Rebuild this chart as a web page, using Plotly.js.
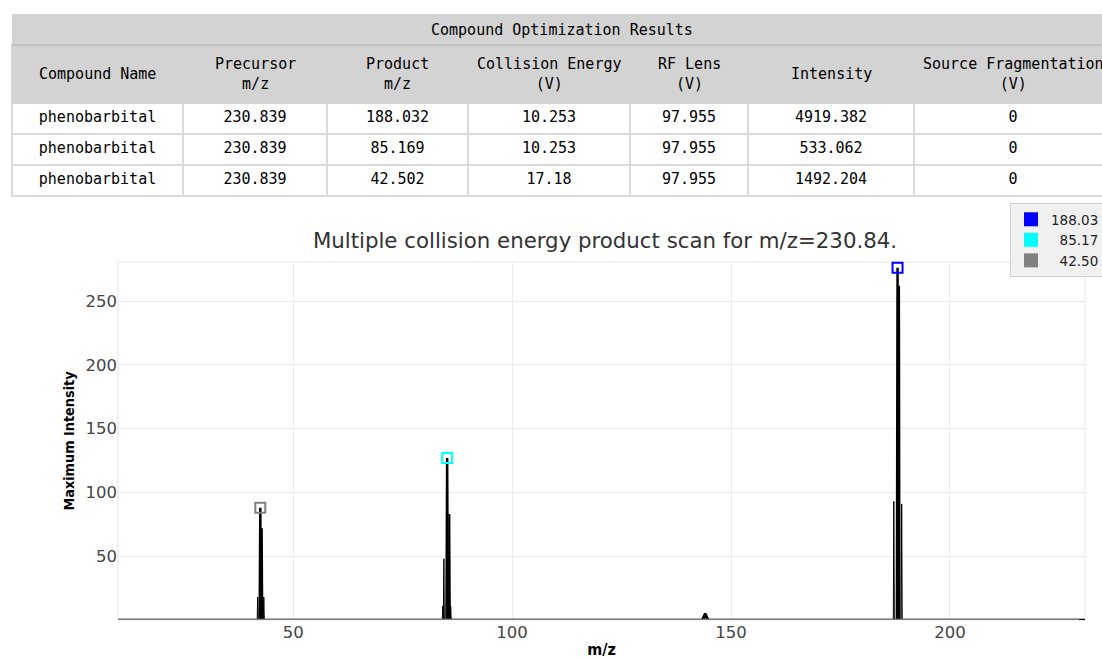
<!DOCTYPE html>
<html>
<head>
<meta charset="utf-8">
<script src="https://cdn.plot.ly/plotly-3.0.1.min.js"></script>
<style>
  html, body { margin: 0; padding: 0; background: #fff; overflow: hidden; }
  #chart { width: 1112px; height: 672px; }
</style>
</head>
<body>
<div id="chart"></div>
<script>
// ---- Table data ----
const tableTitle = 'Compound Optimization Results';
const columnHeaders = ['Compound Name', 'Precursor<br>m/z', 'Product<br>m/z', 'Collision Energy<br>(V)', 'RF Lens<br>(V)', 'Intensity', 'Source Fragmentation<br>(V)'];
const compoundNames = ['phenobarbital', 'phenobarbital', 'phenobarbital'];
const precursorMz = [230.839, 230.839, 230.839];
const productMz = [188.032, 85.169, 42.502];
const collisionEnergy = [10.253, 10.253, 17.18];
const rfLens = [97.955, 97.955, 97.955];
const intensity = [4919.382, 533.062, 1492.204];
const sourceFragmentation = [0, 0, 0];

// ---- Spectrum data (several overlaid scans) ----
const scan1Mz  = [10, 42.35, 42.5, 42.65, 85.02, 85.17, 85.32, 143.4, 144.1, 144.8, 187.88, 188.03, 188.18, 230.84];
const scan1Int = [0, 0, 88, 0, 0, 127, 0, 0, 5, 0, 0, 276, 0, 0];
const scan2Mz  = [10, 42.72, 42.85, 42.98, 85.54, 85.67, 85.8, 143.6, 144.1, 144.6, 188.25, 188.38, 188.51, 230.84];
const scan2Int = [0, 0, 72, 0, 0, 83, 0, 0, 3, 0, 0, 262, 0, 0];
const scan3Mz  = [10, 41.78, 41.9, 42.02, 84.3, 84.42, 84.54, 187.06, 187.18, 187.3, 230.84];
const scan3Int = [0, 0, 18, 0, 0, 48, 0, 0, 93, 0, 0];
const scan4Mz  = [10, 43.18, 43.3, 43.42, 84.05, 84.17, 84.29, 85.86, 85.98, 86.1, 188.86, 188.98, 189.1, 230.84];
const scan4Int = [0, 0, 18, 0, 0, 11, 0, 0, 11, 0, 0, 91, 0, 0];

// ---- Optimized product peaks ----
const peakLabels = ['188.03', '\u200785.17', '\u200742.50'];
const peakMz = [188.03, 85.17, 42.5];
const peakMax = [276, 127, 88];
const peakColors = ['#0000ff', '#00ffff', '#808080'];

const chartTitle = 'Multiple collision energy product scan for m/z=230.84.';
const xTicks = [50, 100, 150, 200];
const yTicks = [50, 100, 150, 200, 250];

// ---- Layout geometry (pixels) ----
const W = 1112, H = 672, mL = 12, mR = 0, mT = 14, mB = 52;
const pw = W - mL - mR, ph = H - mT - mB;
const px = x => (x - mL) / pw;
const py = y => (H - mB - y) / ph;
const colWidths = [171, 144, 141, 162, 118, 166, 198];
const colEdges = [mL];
colWidths.forEach(w => colEdges.push(colEdges[colEdges.length - 1] + w));

const mono = 'DejaVu Sans Mono, Liberation Mono, monospace';
const sans = 'DejaVu Sans, Verdana, sans-serif';
const narrow = 'DejaVu Sans Condensed, Liberation Sans Narrow, Arial Narrow, sans-serif';

const traces = [];
traces.push({
  type: 'table',
  domain: { x: [0, 1], y: [0.68, py(45)] },
  columnwidth: colWidths,
  header: {
    values: columnHeaders.map(() => ''),
    height: 58,
    fill: { color: '#d3d3d3' },
    line: { color: '#d3d3d3', width: 2 },
    font: { family: mono, size: 15, color: '#000000' }
  },
  cells: {
    values: [compoundNames, precursorMz.map(String), productMz.map(String), collisionEnergy.map(String),
             rfLens.map(String), intensity.map(String), sourceFragmentation.map(String)],
    height: 31,
    align: 'center',
    fill: { color: '#ffffff' },
    line: { color: '#d9d9d9', width: 2 },
    font: { family: mono, size: 15, color: '#000000' }
  }
});

const scans = [[scan3Mz, scan3Int, 1], [scan4Mz, scan4Int, 1], [scan2Mz, scan2Int, 2], [scan1Mz, scan1Int, 2.5]];
scans.forEach(s => traces.push({
  type: 'scatter', mode: 'lines', x: s[0], y: s[1],
  line: { color: '#000000', width: s[2] }, showlegend: false, hoverinfo: 'skip'
}));

peakMz.forEach((m, i) => traces.push({
  type: 'scatter', mode: 'markers', x: [m], y: [peakMax[i]],
  marker: { symbol: 'square-open', size: 10, color: peakColors[i], line: { width: 2, color: peakColors[i] } },
  showlegend: false, hoverinfo: 'skip', cliponaxis: false
}));

peakLabels.forEach((lab, i) => traces.push({
  type: 'scatter', mode: 'markers', x: [null], y: [null], name: lab,
  marker: { symbol: 'square', size: 14, color: peakColors[i] },
  showlegend: true
}));

const annotations = [];
annotations.push({
  xref: 'paper', yref: 'paper', x: 0.5, y: py(30), xanchor: 'center', yanchor: 'middle',
  text: tableTitle, showarrow: false, font: { family: mono, size: 15, color: '#000000' }
});
columnHeaders.forEach((h, i) => annotations.push({
  xref: 'paper', yref: 'paper', x: px((colEdges[i] + colEdges[i + 1]) / 2), y: py(74),
  xanchor: 'center', yanchor: 'middle', text: h, showarrow: false,
  font: { family: mono, size: 15, color: '#000000' }
}));

const layout = {
  width: W, height: H,
  margin: { l: mL, r: mR, t: mT, b: mB, pad: 0 },
  paper_bgcolor: '#ffffff', plot_bgcolor: '#ffffff',
  title: {
    text: chartTitle, xref: 'paper', x: px(605), xanchor: 'center',
    yref: 'container', y: 1 - 241 / H, yanchor: 'middle',
    font: { family: sans, size: 21.3, color: '#333333' }
  },
  xaxis: {
    domain: [px(118), px(1085)], range: [10, 230.84],
    tickvals: xTicks, ticktext: xTicks.map(String), ticks: '',
    showgrid: true, gridcolor: '#ebebeb', gridwidth: 1, zeroline: false,
    showline: false,
    tickfont: { family: sans, size: 16.5, color: '#444444' },
    title: { text: 'm/z', standoff: 3, font: { family: narrow, weight: 'bold', size: 16, color: '#000000' } }
  },
  yaxis: {
    domain: [0, py(262)], range: [0, 280.6],
    tickvals: yTicks, ticktext: yTicks.map(String), ticks: '',
    showgrid: true, gridcolor: '#ebebeb', gridwidth: 1, zeroline: false,
    showline: false,
    tickfont: { family: sans, size: 16.5, color: '#444444' },
    title: { text: 'Maximum Intensity', standoff: 7, font: { family: narrow, weight: 'bold', size: 14.3, color: '#000000' } }
  },
  shapes: [
    { type: 'rect', xref: 'paper', yref: 'paper', x0: 0, x1: 1, y0: py(45), y1: 1, fillcolor: '#d3d3d3', line: { width: 0 }, layer: 'below' },
    { type: 'line', xref: 'paper', yref: 'paper', x0: 0, x1: 1, y0: py(45), y1: py(45), line: { color: '#c2c2c2', width: 2 } },
    { type: 'rect', xref: 'x domain', yref: 'y domain', x0: 0, x1: 1, y0: 0, y1: 1, line: { color: '#e6e6e6', width: 1 }, layer: 'below' },
    { type: 'line', xref: 'x', yref: 'y', x0: 10, x1: 229.5, y0: 0, y1: 0, line: { color: '#7f7f7f', width: 2.5 }, layer: 'above' }
  ],
  annotations: annotations,
  showlegend: true,
  legend: {
    x: px(1010), y: py(203), xref: 'paper', yref: 'paper', xanchor: 'left', yanchor: 'top',
    bgcolor: '#f0f0f0', bordercolor: '#cfcfcf', borderwidth: 1,
    font: { family: sans, size: 13.5, color: '#222222' },
    itemwidth: 30, traceorder: 'normal', tracegroupgap: 0
  }
};

Plotly.newPlot('chart', traces, layout, { displayModeBar: false, staticPlot: true });
</script>
</body>
</html>
